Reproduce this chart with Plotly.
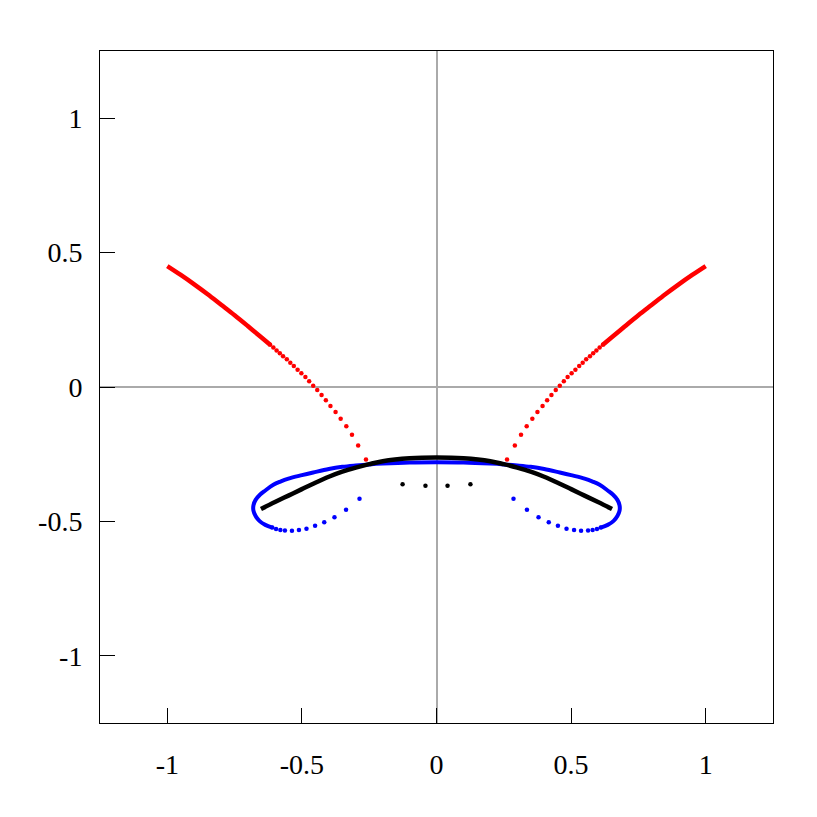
import plotly.graph_objects as go

# ---- Data ----
# red branches: sparse dots (lower part) and the dense run up to the ends
red_dot_x = [-0.618, -0.606, -0.594, -0.582, -0.570, -0.556, -0.543, -0.530, -0.516, -0.502,
             -0.487, -0.473, -0.458, -0.443, -0.427, -0.411, -0.394, -0.375, -0.356, -0.335,
             -0.314, -0.291, -0.262,
             0.262, 0.291, 0.314, 0.335, 0.356, 0.375, 0.394, 0.411, 0.427, 0.443,
             0.458, 0.473, 0.487, 0.502, 0.516, 0.530, 0.543, 0.556, 0.570, 0.582,
             0.594, 0.606, 0.618]
red_dot_y = [0.157, 0.147, 0.136, 0.126, 0.114, 0.103, 0.090, 0.078, 0.064, 0.051,
             0.037, 0.021, 0.005, -0.011, -0.030, -0.049, -0.071, -0.093, -0.118, -0.146,
             -0.178, -0.218, -0.270,
             -0.270, -0.218, -0.178, -0.146, -0.118, -0.093, -0.071, -0.049, -0.030, -0.011,
             0.005, 0.021, 0.037, 0.051, 0.064, 0.078, 0.090, 0.103, 0.114, 0.126,
             0.136, 0.147, 0.157]
red_line_x = [-1.0, -0.95, -0.9, -0.85, -0.8, -0.75, -0.7, -0.65, -0.618, None,
              0.618, 0.65, 0.7, 0.75, 0.8, 0.85, 0.9, 0.95, 1.0]
red_line_y = [0.450, 0.417, 0.382, 0.345, 0.306, 0.267, 0.226, 0.184, 0.157, None,
              0.157, 0.184, 0.226, 0.267, 0.306, 0.345, 0.382, 0.417, 0.450]

# blue loop: sparse dots under each lobe, dense run around the loops and across the top
blue_dot_x = [-0.610, -0.596, -0.580, -0.563, -0.537, -0.511, -0.483, -0.451, -0.417, -0.379,
              -0.336, -0.286,
              0.286, 0.336, 0.379, 0.417, 0.451, 0.483, 0.511, 0.537, 0.563, 0.580,
              0.596, 0.610]
blue_dot_y = [-0.523, -0.528, -0.532, -0.534, -0.535, -0.532, -0.527, -0.516, -0.503, -0.485,
              -0.457, -0.416,
              -0.416, -0.457, -0.485, -0.503, -0.516, -0.527, -0.532, -0.535, -0.534, -0.532,
              -0.528, -0.523]
blue_line_x = [-0.610, -0.636, -0.658, -0.672, -0.680, -0.680, -0.672, -0.655, -0.636, -0.606,
               -0.580, -0.550, -0.500, -0.458, -0.400, -0.350, -0.300, -0.250, -0.200, -0.100,
               0.0, 0.100, 0.200, 0.250, 0.300, 0.350, 0.400, 0.458, 0.500, 0.550,
               0.580, 0.606, 0.636, 0.655, 0.672, 0.680, 0.680, 0.672, 0.658, 0.636,
               0.610]
blue_line_y = [-0.523, -0.513, -0.498, -0.480, -0.460, -0.440, -0.420, -0.400, -0.385, -0.364,
               -0.352, -0.341, -0.328, -0.318, -0.305, -0.297, -0.292, -0.288, -0.285, -0.281,
               -0.280, -0.281, -0.285, -0.288, -0.292, -0.297, -0.305, -0.318, -0.328, -0.341,
               -0.352, -0.364, -0.385, -0.400, -0.420, -0.440, -0.460, -0.480, -0.498, -0.513,
               -0.523]

# black arc and the four loose black dots
black_line_x = [-0.652, -0.6, -0.55, -0.5, -0.458, -0.4, -0.35, -0.3, -0.25, -0.2, -0.1, 0.0,
                0.1, 0.2, 0.25, 0.3, 0.35, 0.4, 0.458, 0.5, 0.55, 0.6, 0.652]
black_line_y = [-0.454, -0.428, -0.404, -0.380, -0.360, -0.334, -0.315, -0.300, -0.287, -0.276,
                -0.265, -0.262, -0.265, -0.276, -0.287, -0.300, -0.315, -0.334, -0.360, -0.380,
                -0.404, -0.428, -0.454]
black_dot_x = [-0.126, -0.041, 0.041, 0.126]
black_dot_y = [-0.362, -0.367, -0.367, -0.362]

tick_vals = [-1, -0.5, 0, 0.5, 1]
tick_text = ["-1", "-0.5", "0", "0.5", "1"]

fig = go.Figure()

# ---- Blue ----
fig.add_trace(go.Scatter(x=blue_line_x, y=blue_line_y, mode="lines",
                         line=dict(color="#0000ff", width=4, shape="spline", smoothing=1),
                         hoverinfo="skip", showlegend=False))
fig.add_trace(go.Scatter(x=blue_dot_x, y=blue_dot_y, mode="markers",
                         marker=dict(color="#0000ff", size=4.5),
                         showlegend=False))

# ---- Black ----
fig.add_trace(go.Scatter(x=black_line_x, y=black_line_y, mode="lines",
                         line=dict(color="black", width=4.5, shape="spline", smoothing=1),
                         hoverinfo="skip", showlegend=False))
fig.add_trace(go.Scatter(x=black_dot_x, y=black_dot_y, mode="markers",
                         marker=dict(color="black", size=4.5),
                         showlegend=False))

# ---- Red ----
fig.add_trace(go.Scatter(x=red_line_x, y=red_line_y, mode="lines",
                         line=dict(color="#ff0000", width=4.5, shape="spline", smoothing=1),
                         hoverinfo="skip", showlegend=False))
fig.add_trace(go.Scatter(x=red_dot_x, y=red_dot_y, mode="markers",
                         marker=dict(color="#ff0000", size=4.5),
                         showlegend=False))

axis_style = dict(
    range=[-1.25, 1.25],
    tickvals=tick_vals,
    ticktext=tick_text,
    ticks="inside",
    ticklen=15,
    tickwidth=1,
    tickcolor="black",
    showgrid=False,
    zeroline=True,
    zerolinecolor="#aaaaaa",
    zerolinewidth=1.5,
    showline=True,
    mirror=True,
    linecolor="black",
    linewidth=1,
    tickfont=dict(family="Liberation Serif", size=28, color="black"),
)

# page adds an 8px body margin, so the figure is shrunk and shifted to match
fig.update_layout(
    width=809, height=809,
    plot_bgcolor="white",
    paper_bgcolor="white",
    margin=dict(l=92, r=44, t=43, b=94),
    xaxis=dict(**axis_style, ticklabelstandoff=16),
    yaxis=dict(**axis_style, ticklabelstandoff=11),
)

fig.write_html("out.html")
